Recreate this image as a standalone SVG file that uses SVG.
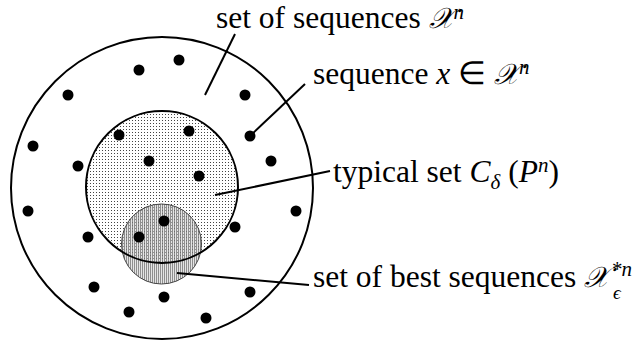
<svg xmlns="http://www.w3.org/2000/svg" width="637" height="343" viewBox="0 0 637 343">
<defs>
<pattern id="dotsLight" width="3" height="3" patternUnits="userSpaceOnUse">
<rect x="0" y="0" width="1" height="1" fill="#444"/>
</pattern>
<pattern id="dotsDark" width="2" height="2" patternUnits="userSpaceOnUse">
<rect x="0" y="0" width="1" height="2" fill="#555" fill-opacity="0.6"/>
</pattern>
<style>
.lbl{font-family:"Liberation Serif","Times New Roman",serif;font-size:31.5px;fill:#000}
.it{font-style:italic}
.sm{font-size:21px}
.xs{font-size:19px}
.cal{font-size:29px;font-style:italic}
.dot{fill:#000}
.lead{stroke:#000;stroke-width:2;fill:none}
.ring{fill:none;stroke:#000;stroke-width:2}
</style>
</defs>
<rect width="637" height="343" fill="#fff"/>
<g id="outer-set">
<circle cx="162" cy="188" r="151" class="ring"/>
</g>
<g id="typical-set">
<circle cx="162" cy="187" r="76" fill="#ffffff"/>
<circle cx="162" cy="187" r="76" fill="url(#dotsLight)"/>
</g>
<g id="best-set">
<circle cx="161.5" cy="244" r="40" fill="#d0d0d0" fill-opacity="0.55"/>
<circle cx="161.5" cy="244" r="40" fill="url(#dotsDark)" stroke="#444" stroke-width="1"/>
</g>
<g id="typical-outline">
<circle cx="162" cy="187" r="76" class="ring"/>
</g>
<g id="sequences">
<circle class="dot" cx="179" cy="60" r="5.5"/>
<circle class="dot" cx="139" cy="70" r="5.5"/>
<circle class="dot" cx="68" cy="95" r="5.5"/>
<circle class="dot" cx="245" cy="95" r="5.5"/>
<circle class="dot" cx="119" cy="135" r="5.5"/>
<circle class="dot" cx="189" cy="131" r="5.5"/>
<circle class="dot" cx="250" cy="136" r="5.5"/>
<circle class="dot" cx="33" cy="146" r="5.5"/>
<circle class="dot" cx="78" cy="166" r="5.5"/>
<circle class="dot" cx="149" cy="161" r="5.5"/>
<circle class="dot" cx="271" cy="161" r="5.5"/>
<circle class="dot" cx="199" cy="176" r="5.5"/>
<circle class="dot" cx="28" cy="211" r="5.5"/>
<circle class="dot" cx="296" cy="211" r="5.5"/>
<circle class="dot" cx="164" cy="221" r="5.5"/>
<circle class="dot" cx="235" cy="227" r="5.5"/>
<circle class="dot" cx="88" cy="237" r="5.5"/>
<circle class="dot" cx="139" cy="237" r="5.5"/>
<circle class="dot" cx="94" cy="287" r="5.5"/>
<circle class="dot" cx="164" cy="297" r="5.5"/>
<circle class="dot" cx="250" cy="292" r="5.5"/>
<circle class="dot" cx="129" cy="312" r="5.5"/>
<circle class="dot" cx="206" cy="318" r="5.5"/>
</g>
<g id="connectors">
<line class="lead" x1="205" y1="95" x2="235" y2="34"/>
<line class="lead" x1="250" y1="136" x2="305" y2="84"/>
<line class="lead" x1="215" y1="195" x2="330" y2="171"/>
<line class="lead" x1="177" y1="273" x2="309" y2="285"/>
</g>
<g id="label-sequences-set">
<text class="lbl" x="216" y="28">set of sequences <tspan class="cal">𝒳</tspan><tspan class="sm it" dy="-9">n</tspan></text>
</g>
<g id="label-sequence">
<text class="lbl" x="313" y="84">sequence <tspan class="it">x</tspan> ∈ <tspan class="cal">𝒳</tspan><tspan class="sm it" dy="-10">n</tspan></text>
</g>
<g id="label-typical">
<text class="lbl" x="333" y="182">typical set <tspan class="it">C</tspan><tspan class="sm it" dy="7">δ</tspan><tspan dy="-7"> (</tspan><tspan class="it">P</tspan><tspan class="sm it" dy="-10">n</tspan><tspan dy="10">)</tspan></text>
</g>
<g id="label-best">
<text class="lbl" x="313" y="287">set of best sequences <tspan class="cal">𝒳</tspan></text>
<text class="lbl sm it" x="611" y="276">*n</text>
<text class="lbl xs it" x="613" y="299">ϵ</text>
</g>
</svg>
